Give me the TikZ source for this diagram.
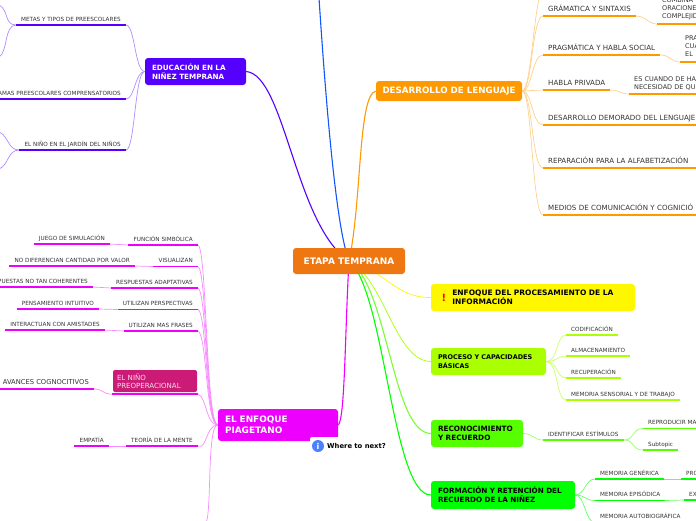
\documentclass[tikz,border=0pt]{standalone}
\usepackage{fontspec}
\setmainfont{DejaVu Sans}
\usetikzlibrary{backgrounds}
\definecolor{purp}{HTML}{5500FF}
\definecolor{bluebr}{HTML}{1155FF}
\definecolor{orng}{HTML}{FF9900}
\definecolor{hub}{HTML}{EE7711}
\definecolor{magn}{HTML}{EE00FF}
\definecolor{pinkbox}{HTML}{CC1A77}
\definecolor{yell}{HTML}{FFF700}
\definecolor{lime}{HTML}{AAFF00}
\definecolor{lgreen}{HTML}{55FF00}
\definecolor{grn}{HTML}{00FF00}
\definecolor{inkgray}{HTML}{333333}
\tikzset{
  topic/.style = {rounded corners=3pt, inner sep=0pt, align=left, font=\bfseries},
  big/.style = {font=\fontsize{8.7}{10}\selectfont\bfseries},% titulo
  mid/.style = {font=\fontsize{7.2}{9}\selectfont\bfseries},
  sub/.style = {inner xsep=5pt, inner ysep=3.5pt, text depth=0pt, text=inkgray,
    font=\fontsize{5.7}{8}\selectfont},
  subb/.style = {sub, inner ysep=4pt, font=\fontsize{7.1}{8}\selectfont},
  ll/.style = {sub, anchor=south east},% a la izquierda
  lr/.style = {sub, anchor=south west},% a la derecha
  bl/.style = {subb, anchor=south east},
  br/.style = {subb, anchor=south west},
  brs/.style = {br, font=\fontsize{6.5}{8}\selectfont},% varias lineas
  wide/.style = {text width=#1, align=left},
  under/.style = {line width=1.9pt},
  link/.style = {line width=.7pt},
  main/.style = {line width=1.1pt}
}
\begin{document}
\begin{tikzpicture}[x=1pt,y=-1pt]
\path[use as bounding box,clip] (0,0) rectangle (696,520);
% ramas principales
\node [topic, big, font=\fontsize{9}{10}\selectfont\bfseries, fill=hub, text=white, minimum width=112, minimum height=26, align=center] (etapa) at (349,261) {ETAPA TEMPRANA};
\node [topic, mid, fill=purp, text=white, minimum width=101, minimum height=27, text width=87, inner xsep=7pt] (educ) at (195.5,71.5) {EDUCACIÓN EN LA\\NIÑEZ TEMPRANA};
\node [topic, big, fill=orng, text=white, minimum width=146, minimum height=20, align=center] (lengua) at (449,91) {DESARROLLO DE LENGUAJE};
\node [topic, font=\fontsize{8.9}{11}\selectfont\bfseries, fill=magn, text=white, minimum width=120, minimum height=32, text width=106, inner xsep=7pt] (piaget) at (278,425) {EL ENFOQUE\\PIAGETANO};
\node [topic, mid, font=\fontsize{7.5}{9}\selectfont\bfseries, fill=yell, text=black, minimum width=204, minimum height=27, text width=161.5] (enfoque) at (533,297.5) {ENFOQUE DEL PROCESAMIENTO DE LA\\INFORMACIÓN};
\node [text=red, inner sep=0pt, font=\fontsize{10}{10}\selectfont\bfseries] (alerta) at (444,298) {!};
\node [topic, font=\fontsize{6.45}{9}\selectfont\bfseries, fill=lime, text=black, minimum width=115, minimum height=27, text width=101, inner xsep=7pt] (proceso) at (488.5,361.5) {PROCESO Y CAPACIDADES\\BÁSICAS};
\node [topic, mid, font=\fontsize{7.3}{9}\selectfont\bfseries, fill=lgreen, text=black, minimum width=92, minimum height=27, text width=78, inner xsep=7pt] (recon) at (477,433.5) {RECONOCIMIENTO\\Y RECUERDO};
\node [topic, mid, fill=grn, text=black, minimum width=144, minimum height=28, text width=130, inner xsep=7pt] (forma) at (503,495) {FORMACIÓN Y RETENCIÓN DEL\\RECUERDO DE LA NIÑEZ};
\node [topic, fill=pinkbox, text=white!85!pinkbox, font=\fontsize{7.05}{8}\selectfont, minimum width=84, minimum height=22, text width=76, inner xsep=4pt, rounded corners=2pt] (preop) at (155,381) {EL NIÑO\\PREOPERACIONAL};
% aviso
\node [fill=white, rounded corners=2pt, minimum width=32, minimum height=14, inner sep=0pt] (hueco) at (326,444) {};
\node [circle, fill=bluebr!75!white, text=white, minimum size=12pt, inner sep=0pt, font=\fontsize{8}{8}\selectfont\bfseries] (info) at (318,446) {i};
\node [anchor=west, inner sep=0pt, font=\fontsize{6.8}{8}\selectfont\bfseries] (next) at (327,446) {Where to next?};
% educacion
\node [ll] (metas) at (126,25) {METAS Y TIPOS DE PREESCOLARES};
\node [ll] (progr) at (126,99) {AMAS PREESCOLARES COMPRENSATORIOS};
\node [ll] (jardin) at (126,150) {EL NIÑO EN EL JARDÍN DEL NIÑOS};
% lenguaje
\node [br] (gram) at (543,16) {GRÁMATICA Y SINTAXIS};
\node [br] (pragm) at (543,55) {PRAGMÁTICA Y HABLA SOCIAL};
\node [br] (privada) at (543,90) {HABLA PRIVADA};
\node [br, wide=160] (demora) at (543,125) {DESARROLLO DEMORADO DEL LENGUAJE};
\node [br, wide=160] (repara) at (543,168) {REPARACIÓN PARA LA ALFABETIZACIÓN};
\node [br, wide=160] (medios) at (543,215) {MEDIOS DE COMUNICACIÓN Y COGNICIÓ};
\node [brs, wide=45, text depth=17.5pt] (combina) at (657,24) {COMBINA\\ORACIONE\\COMPLEJID};
\node [brs, wide=20, text depth=17pt] (pra) at (680,62) {PRA\\CUA\\EL};
\node [brs, wide=70, text depth=8pt] (hacer) at (629,94) {ES CUANDO DE HA\\NECESIDAD DE QU};
% piaget
\node [ll] (fsim) at (198,245) {FUNCIÓN SIMBÓLICA};
\node [ll] (visual) at (198,266.5) {VISUALIZAN};
\node [ll] (adapt) at (198,288) {RESPUESTAS ADAPTATIVAS};
\node [ll] (persp) at (198,309.5) {UTILIZAN PERSPECTIVAS};
\node [ll] (frases) at (198,331) {UTILIZAN MAS FRASES};
\node [ll] (mente) at (198,446) {TEORÍA DE LA MENTE};
\node [ll] (juego) at (110,244) {JUEGO DE SIMULACIÓN};
\node [ll] (cantidad) at (135,266) {NO DIFERENCIAN CANTIDAD POR VALOR};
\node [ll] (cohere) at (93,287) {PUESTAS NO TAN COHERENTES};
\node [ll] (intuit) at (99,309) {PENSAMIENTO INTUITIVO};
\node [ll] (amist) at (105,330) {INTERACTUAN CON AMISTADES};
\node [ll] (empat) at (109,446) {EMPATÍA};
\node [bl, font=\fontsize{6.75}{8}\selectfont] (avance) at (94,389) {AVANCES COGNOCITIVOS};
% proceso
\node [lr] (codif) at (566,335) {CODIFICACIÓN};
\node [lr] (almac) at (566,356) {ALMACENAMIENTO};
\node [lr] (recup) at (566,378) {RECUPERACIÓN};
\node [lr] (sensor) at (566,400) {MEMORIA SENSORIAL Y DE TRABAJO};
\node [lr] (identif) at (543,440) {IDENTIFICAR ESTÍMULOS};
\node [lr, wide=60] (repro) at (643,428.5) {REPRODUCIR MA};
\node [lr] (subtop) at (643,450) {Subtopic};
\node [lr] (generica) at (595,479) {MEMORIA GENÉRICA};
\node [lr] (episod) at (595,500.5) {MEMORIA EPISÓDICA};
\node [lr] (autobio) at (595,522.5) {MEMORIA AUTOBIOGRÁFICA};
\node [lr, wide=20] (pro) at (681,479) {PRO};
\node [lr, wide=20] (ex) at (684,500) {EX};
% extremos libres
\coordinate (arriba) at (319,-2);
\coordinate (lentop) at (545,-14);
\coordinate (piagfin) at (204,524);
\coordinate (m1) at (-1,5);
\coordinate (m2) at (-1,57);
\coordinate (j1) at (-1,132);
\coordinate (j2) at (-1,169);
% subrayados
\foreach \n in {metas,progr,jardin} \draw[under,purp] (\n.south west) -- (\n.south east);
\foreach \n in {gram,pragm,privada,demora,repara,medios,combina,pra,hacer} \draw[under,orng] (\n.south west) -- (\n.south east);
\foreach \n in {fsim,visual,adapt,persp,frases,mente,juego,cantidad,cohere,intuit,amist,empat,avance} \draw[under,magn] (\n.south west) -- (\n.south east);
\draw[under,magn] ([xshift=-1pt,yshift=-2pt]preop.south west) coordinate (preopa) -- ([xshift=1pt,yshift=-2pt]preop.south east) coordinate (preopb);
\foreach \n in {codif,almac,recup,sensor} \draw[under,lime] (\n.south west) -- (\n.south east);
\foreach \n in {identif,repro,subtop} \draw[under,lgreen] (\n.south west) -- (\n.south east);
\foreach \n in {generica,episod,autobio,pro,ex} \draw[under,grn] (\n.south west) -- (\n.south east);
\begin{scope}[on background layer]
% desde el centro
\draw[main,purp] (educ.east) .. controls (285,75) and (295,225) .. (etapa.center);
\draw[main,bluebr] (arriba) .. controls (327,120) and (337,230) .. (etapa.center);
\draw[main,orng] (lengua.west) .. controls (358,95) and (362,200) .. (etapa.center);
\draw[main,magn] (piaget.east) .. controls (345,420) and (345,330) .. (etapa.center);
\draw[link,yell] (etapa.center) .. controls (385,270) and (395,298) .. (enfoque.west);
\draw[link,lime] (etapa.center) .. controls (385,280) and (395,361) .. (proceso.west);
\draw[main,lgreen!80!white] (etapa.center) .. controls (388,285) and (392,433) .. (recon.west);
\draw[main,grn] (etapa.center) .. controls (385,290) and (392,495) .. (forma.west);
% hijos
\foreach \n in {metas,progr,jardin} \draw[link,purp!45!white] (educ.west) .. controls +(-10,0) and +(9,0) .. (\n.south east);
\draw[link,purp!45!white] (metas.south west) .. controls +(-12,0) and +(10,5) .. (m1);
\draw[link,purp!45!white] (metas.south west) .. controls +(-12,0) and +(9,-5) .. (m2);
\draw[link,purp!45!white] (jardin.south west) .. controls +(-12,0) and +(10,4) .. (j1);
\draw[link,purp!45!white] (jardin.south west) .. controls +(-12,0) and +(10,-4) .. (j2);
\foreach \n in {lentop,gram.south west,pragm.south west,privada.south west,demora.south west,repara.south west,medios.south west} \draw[link,orng!45!white] (lengua.east) .. controls +(10,0) and +(-11,0) .. (\n);
\draw[link,orng!45!white] (gram.south east) .. controls +(10,0) and +(-9,0) .. (combina.south west);
\draw[link,orng!45!white] (pragm.south east) .. controls +(10,0) and +(-9,0) .. (pra.south west);
\draw[link,orng!45!white] (privada.south east) .. controls +(10,0) and +(-9,0) .. (hacer.south west);
\foreach \n in {fsim.south east,visual.south east,adapt.south east,persp.south east,frases.south east,preopb,mente.south east,piagfin} \draw[link,magn!45!white] (piaget.west) .. controls +(-12,0) and +(9,4) .. (\n);
\foreach \a/\b in {fsim/juego,visual/cantidad,adapt/cohere,persp/intuit,frases/amist,mente/empat} \draw[link,magn!45!white] (\a.south west) .. controls +(-9,0) and +(9,0) .. (\b.south east);
\draw[link,magn!45!white] (preopa) .. controls +(-9,0) and +(9,0) .. (avance.south east);
\foreach \n in {codif,almac,recup,sensor} \draw[link,lime!60!white] (proceso.east) .. controls +(12,0) and +(-10,0) .. (\n.south west);
\draw[link,lgreen!60!white] (recon.east) .. controls +(10,0) and +(-10,0) .. (identif.south west);
\foreach \n in {repro,subtop} \draw[link,lgreen!60!white] (identif.south east) .. controls +(12,0) and +(-12,0) .. (\n.south west);
\foreach \n in {generica,episod,autobio} \draw[link,grn!60!white] (forma.east) .. controls +(10,0) and +(-10,0) .. (\n.south west);
\draw[link,grn!60!white] (generica.south east) .. controls +(9,0) and +(-9,0) .. (pro.south west);
\draw[link,grn!60!white] (episod.south east) .. controls +(9,0) and +(-9,0) .. (ex.south west);
\end{scope}
\end{tikzpicture}
\end{document}
